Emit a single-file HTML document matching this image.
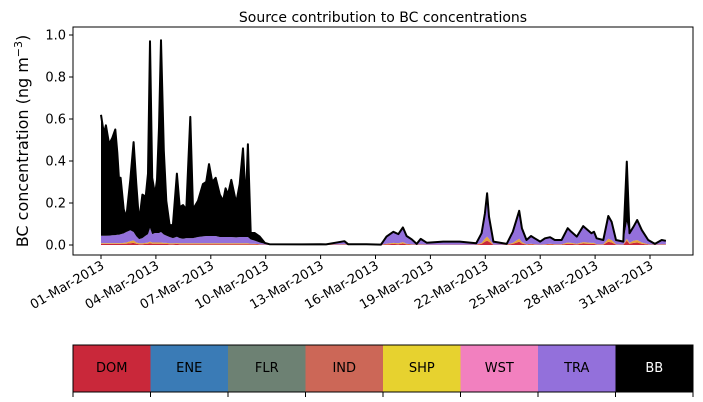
<!DOCTYPE html>
<html><head><meta charset="utf-8"><style>
body{margin:0;background:#fff;font-family:"Liberation Sans","DejaVu Sans",sans-serif;}
svg{display:block}
</style></head><body>
<svg id="chart" width="703" height="402" viewBox="0 0 703 402" xmlns="http://www.w3.org/2000/svg" font-family="DejaVu Sans, Liberation Sans, sans-serif">
<text x="383" y="22" font-size="14" text-anchor="middle">Source contribution to BC concentrations</text>
<text transform="translate(28,141) rotate(-90)" font-size="16" text-anchor="middle">BC concentration (ng m<tspan dy="-6" font-size="11">−3</tspan><tspan dy="6">)</tspan></text>
<g id="plot"></g>
<g id="legend"></g>
</svg>
<script>
const days=[0,0.16,0.27,0.44,0.62,0.78,0.89,0.98,1.07,1.24,1.38,1.6,1.78,1.93,2.08,2.26,2.44,2.57,2.68,2.8,2.95,3.06,3.17,3.28,3.43,3.57,3.75,3.93,4.15,4.3,4.48,4.66,4.88,5.03,5.3,5.57,5.75,5.9,6.08,6.27,6.49,6.67,6.81,6.94,7.12,7.39,7.58,7.76,7.91,8.03,8.18,8.4,8.67,8.95,9.2,11,12,12.3,13.3,13.5,14.5,15.3,15.6,15.97,16.25,16.5,16.7,16.98,17.25,17.47,17.8,18.7,19.6,20.5,20.8,20.98,21.1,21.2,21.44,22.17,22.5,22.85,23,23.25,23.5,23.7,24,24.26,24.54,24.8,25.17,25.5,25.7,26,26.35,26.6,26.8,26.94,27.08,27.45,27.72,27.9,28.14,28.54,28.73,28.88,29.1,29.3,29.55,29.9,30.27,30.64,30.87];
const dom=[.005,.005,.005,.005,.005,.005,.005,.005,.005,.005,.006,.008,.01,.006,.004,.004,.005,.006,.008,.006,.006,.006,.006,.006,.005,.005,.004,.004,.005,.004,.004,.004,.004,.004,.004,.004,.004,.004,.004,.004,.004,.004,.004,.004,.004,.004,.004,.004,.004,.004,.003,.003,.002,.001,.001,.001,.001,.001,.002,.001,.001,.001,.003,.005,.004,.007,.003,.002,.001,.002,.001,.001,.001,.001,.005,.015,.02,.015,.001,.001,.005,.015,.007,.002,.003,.002,.001,.002,.003,.002,.002,.006,.005,.003,.007,.006,.005,.005,.002,.002,.015,.012,.002,.001,.02,.005,.01,.012,.006,.002,.001,.002,.002];
const shp=[.004,.004,.004,.004,.004,.004,.004,.004,.004,.005,.006,.01,.012,.006,.004,.004,.005,.006,.008,.006,.006,.006,.006,.006,.005,.005,.004,.004,.004,.004,.004,.004,.004,.004,.004,.004,.004,.004,.004,.004,.004,.004,.004,.004,.004,.004,.004,.004,.004,.004,.003,.003,.002,.001,.001,.001,.001,.001,.002,.001,.001,0,.003,.005,.004,.007,.003,.002,.001,.002,.001,.001,.001,.001,.005,.015,.02,.015,.001,.001,.005,.015,.007,.002,.003,.002,.001,.002,.003,.002,.002,.006,.005,.003,.007,.006,.005,.005,.002,.002,.015,.012,.002,.001,.01,.005,.01,.012,.006,.002,.001,.002,.002];
const tra=[.035,.035,.035,.036,.037,.038,.04,.04,.042,.045,.05,.052,.04,.03,.02,.025,.035,.04,.065,.04,.045,.045,.045,.05,.04,.035,.03,.025,.03,.025,.022,.025,.025,.025,.03,.033,.035,.035,.035,.035,.03,.03,.03,.03,.03,.028,.03,.03,.03,.03,.02,.015,.008,.004,.002,.001,.002,.001,.014,.002,.002,.001,.034,.053,.044,.07,.037,.023,.003,.025,.009,.014,.014,.006,.046,.12,.206,.105,.014,.003,.053,.133,.066,.02,.037,.028,.014,.028,.031,.02,.02,.068,.053,.034,.076,.059,.046,.053,.028,.02,.108,.087,.02,.014,.08,.046,.067,.095,.059,.02,.003,.02,.016];
const bb=[.576,.486,.526,.435,.464,.503,.391,.271,.269,.115,.068,.24,.428,.248,.082,.207,.185,.288,.889,.268,.183,.253,.503,.913,.4,.165,.057,.062,.301,.147,.16,.137,.577,.137,.172,.249,.257,.342,.257,.277,.202,.172,.232,.202,.272,.164,.252,.422,.162,.442,.034,.036,.028,.004,0,0,0,0,0,0,0,0,0,0,0,0,0,0,0,0,0,0,0,0,0,0,0,0,0,0,0,0,0,0,0,0,0,0,0,0,0,0,0,0,0,0,0,0,0,0,0,0,0,0,.287,0,0,0,0,0,0,0,0];
const yTicks=[0,0.2,0.4,0.6,0.8,1.0];
const yTickLabels=["0.0","0.2","0.4","0.6","0.8","1.0"];
const xTickDays=[0,3,6,9,12,15,18,21,24,27,30];
const xTickLabels=["01-Mar-2013","04-Mar-2013","07-Mar-2013","10-Mar-2013","13-Mar-2013","16-Mar-2013","19-Mar-2013","22-Mar-2013","25-Mar-2013","28-Mar-2013","31-Mar-2013"];
const legendNames=["DOM","ENE","FLR","IND","SHP","WST","TRA","BB"];
const legendColors=["#c9283a","#3a7bb6","#6d8173","#cc6757","#e7d22f","#f280bf","#9370db","#000000"];

const NS="http://www.w3.org/2000/svg";
const X0=73,X1=693,Y0=27,Y1=255;
const xs=d=>101+d*18.3;
const ys=v=>245-v*210;
function mk(tag,attrs,parent){const e=document.createElementNS(NS,tag);for(const k in attrs)e.setAttribute(k,attrs[k]);parent.appendChild(e);return e;}
const plot=document.getElementById('plot');
// stacked series
const layers=[["dom-area",dom,"#c9283a"],["shp-area",shp,"#e8a53a"],["tra-area",tra,"#9370db"],["bb-area",bb,"#000000"]];
let base=days.map(()=>0);
layers.forEach(([name,arr,col])=>{
  const top=base.map((b,i)=>b+arr[i]);
  let d="M"+days.map((t,i)=>xs(t).toFixed(1)+","+ys(top[i]).toFixed(1)).join("L");
  for(let i=days.length-1;i>=0;i--)d+="L"+xs(days[i]).toFixed(1)+","+ys(base[i]).toFixed(1);
  const p=mk('path',{d:d+"Z",fill:col,stroke:"none"},plot);
  
  
  base=top;
});
const tl=mk('path',{d:"M"+days.map((t,i)=>xs(t).toFixed(1)+","+ys(base[i]).toFixed(1)).join("L"),fill:"none",stroke:"#000","stroke-width":2,"stroke-linejoin":"round"},plot);


const fr=mk('rect',{x:X0,y:Y0,width:X1-X0,height:Y1-Y0,fill:"none",stroke:"#000","stroke-width":1},plot);


yTicks.forEach((v,i)=>{
  mk('line',{x1:X0-4,x2:X0,y1:ys(v),y2:ys(v),stroke:"#000"},plot);
  const t=mk('text',{x:X0-7,y:ys(v)+4.5,"font-size":13,"text-anchor":"end"},plot);
  t.textContent=yTickLabels[i];
  
  
});
xTickDays.forEach((dd,i)=>{
  const x=xs(dd);
  mk('line',{x1:x,x2:x,y1:Y1,y2:Y1+4,stroke:"#000"},plot);
  const t=mk('text',{transform:`translate(${x+4},${Y1+13}) rotate(-30)`,"font-size":13,"text-anchor":"end"},plot);
  t.textContent=xTickLabels[i];
  
  
});
const lg=document.getElementById('legend');
const LW=(X1-X0)/legendNames.length;
legendNames.forEach((n,i)=>{
  const r=mk('rect',{x:X0+i*LW,y:345,width:LW+0.5,height:47,fill:legendColors[i]},lg);
  
  
  const t=mk('text',{x:X0+i*LW+LW/2,y:372,"font-size":13,"text-anchor":"middle",fill:n==="BB"?"#fff":"#000"},lg);
  t.textContent=n;
  
  
});
for(let i=0;i<=legendNames.length;i++){mk('line',{x1:X0+i*LW,x2:X0+i*LW,y1:392,y2:397,stroke:"#000"},lg);}
const lf=mk('rect',{x:X0,y:345,width:X1-X0,height:47,fill:"none",stroke:"#000"},lg);


</script>
</body></html>
